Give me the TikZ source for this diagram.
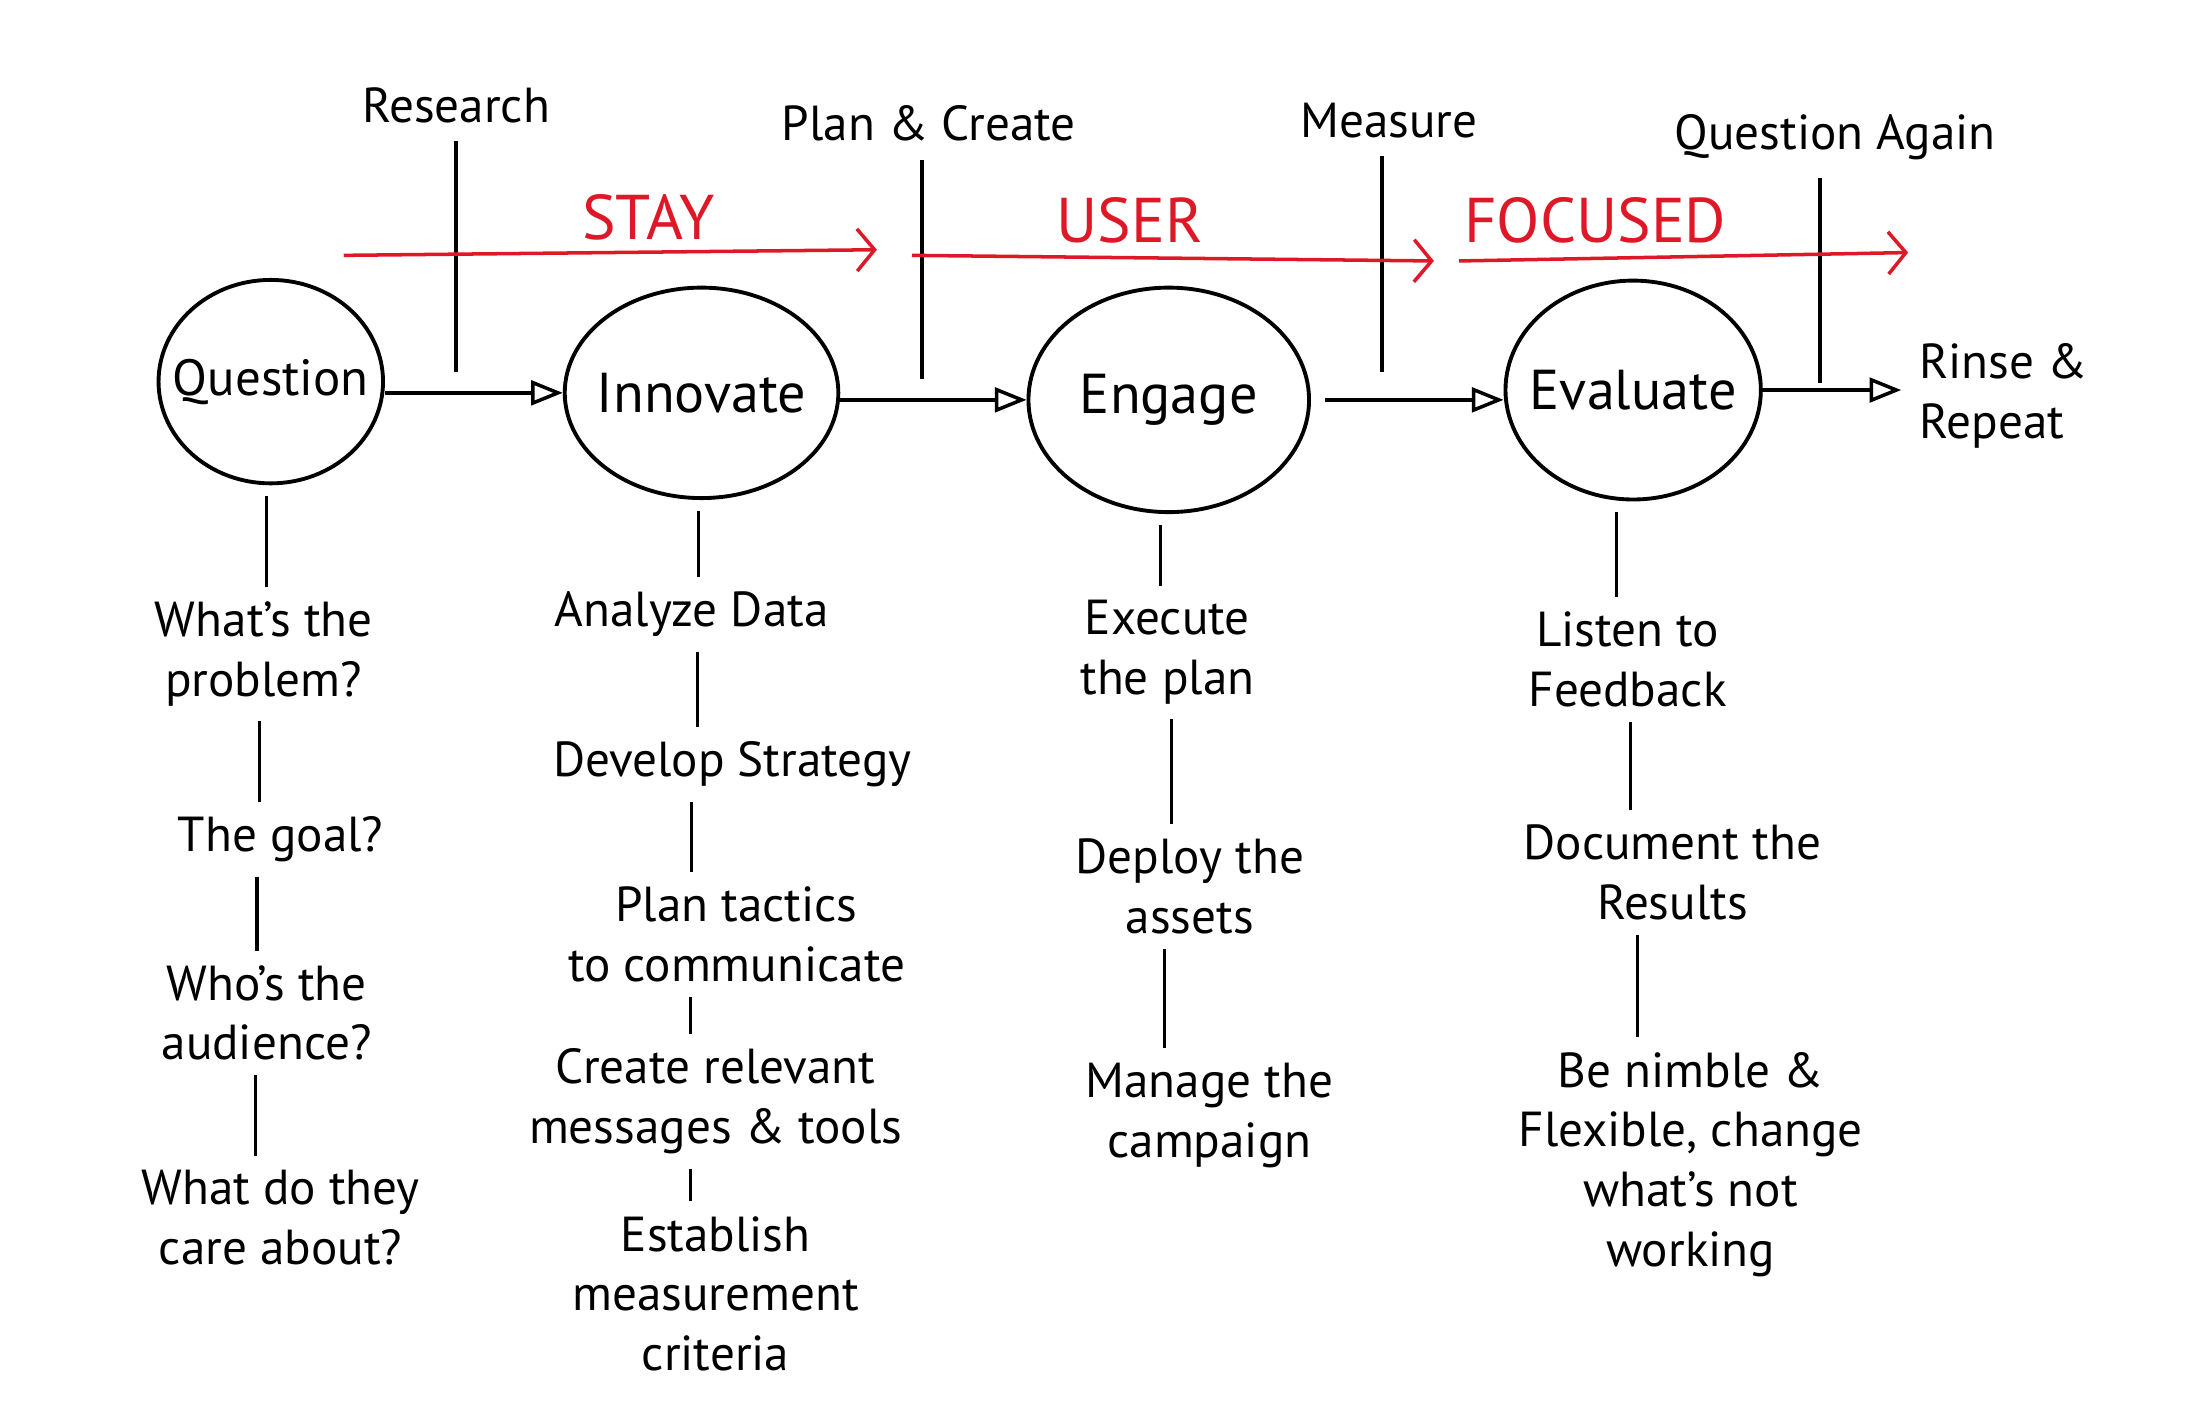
\documentclass[tikz,border=0pt]{standalone}
\usepackage{fontspec}
\setmainfont{PT Sans}
\usepackage{tikz}
\usetikzlibrary{arrows.meta,positioning,shapes.geometric}
\definecolor{penred}{RGB}{222,24,38}
\newlength\unitpx
\setlength\unitpx{0.0140306cm}
\tikzset{
	stage/.style 2 args={draw,ellipse,line width=1.1pt,inner xsep=-9pt,inner ysep=0pt,
		minimum width=#1\unitpx,minimum height=#2\unitpx,font=\fontsize{16}{19}\selectfont},
	note/.style={align=center,font=\fontsize{14}{17}\selectfont,inner sep=1pt},
	head/.style={font=\fontsize{14}{17}\selectfont,inner sep=2pt},
	motto/.style={text=penred,font=\fontsize{18}{21}\selectfont},
	flow/.style={line width=1pt,-{Triangle[open,length=9pt,width=7pt]}},
	redflow/.style={draw=penred,line width=1pt,-{Straight Barb[length=5pt,width=12pt]}},
	link/.style={line width=1pt,shorten <=3pt,shorten >=3pt}
}

\begin{document}
\begin{tikzpicture}[x=\unitpx,y=-\unitpx]
	\useasboundingbox (0,0) rectangle (1568,1014.2);
	\node [stage={160}{145},font=\fontsize{14.5}{17}\selectfont] (Q) at (193,272) {Question};
	\node [stage={195}{150}] (I) at (500,280) {Innovate};
	\node [stage={200}{160}] (E) at (833,285) {Engage};
	\node [stage={182}{156}] (V) at (1164,278) {Evaluate};
	\node [note,align=left] (R) at (1428,282) {Rinse \&\\Repeat};
	\draw [flow] (Q.east |- I.west) -- (I.west);
	\draw [flow] (I.east |- E.west) -- (E.west);
	\draw [flow,shorten <=4pt] (E.east) -- (E.east -| V.west);
	\draw [flow,shorten >=4pt] (V.east) -- (V.east -| R.west);
	\node [head] (T1) at (325,75) {Research};
	\node [head] (T2) at (662,88) {Plan \& Create};
	\node [head] (T3) at (990,86) {Measure};
	\node [head] (T4) at (1308,98) {Question Again};
	\coordinate (B1) at (325,265);
	\coordinate (B2) at (657,270);
	\coordinate (B3) at (985,265);
	\coordinate (B4) at (1297,273);
	\draw [link,shorten >=0pt] (T1.south -| B1) -- (B1);
	\draw [link,shorten >=0pt] (T2.south -| B2) -- (B2);
	\draw [link,shorten >=0pt] (T3.south -| B3) -- (B3);
	\draw [link,shorten >=0pt] (T4.south -| B4) -- (B4);
	\coordinate (S0) at (245,182);
	\coordinate (S1) at (625,178);
	\coordinate (U0) at (650,182);
	\coordinate (U1) at (1022,186);
	\coordinate (F0) at (1040,186);
	\coordinate (F1) at (1360,180);
	\draw [redflow] (S0) -- (S1);
	\draw [redflow] (U0) -- (U1);
	\draw [redflow] (F0) -- (F1);
	\node [motto] (stay) at (462,155) {STAY};
	\node [motto] (user) at (805,157) {USER};
	\node [motto] (focused) at (1137,157) {FOCUSED};
	\node [note] (Q1) at (188,466) {What's the\\problem?};
	\node [note] (Q2) at (200,598) {The goal?};
	\node [note] (Q3) at (190,722) {Who's the\\audience?};
	\node [note] (Q4) at (200,868) {What do they\\care about?};
	\node [note] (I1) at (493,438) {Analyze Data};
	\node [note] (I2) at (522,545) {Develop Strategy};
	\node [note] (I3) at (525,666) {Plan tactics\\to communicate};
	\node [note] (I4) at (510,785) {Create relevant\\messages \& tools};
	\node [note] (I5) at (510,922) {Establish\\measurement\\criteria};
	\node [note] (E1) at (832,465) {Execute\\the plan};
	\node [note] (E2) at (848,632) {Deploy the\\assets};
	\node [note] (E3) at (862,795) {Manage the\\campaign};
	\node [note] (V1) at (1160,470) {Listen to\\Feedback};
	\node [note] (V2) at (1192,622) {Document the\\Results};
	\node [note] (V3) at (1205,830) {Be nimble \&\\Flexible, change\\what's not\\working};
	\foreach \a/\b/\x in {Q/Q1/190,Q1/Q2/185,Q2/Q3/183,Q3/Q4/182,
		I/I1/498,I1/I2/497,I2/I3/493,I3/I4/492,I4/I5/492,
		E/E1/827,E1/E2/835,E2/E3/830,
		V/V1/1152,V1/V2/1162,V2/V3/1167}
		\draw [link] (\x,0 |- \a.south) -- (\x,0 |- \b.north);
\end{tikzpicture}
\end{document}
